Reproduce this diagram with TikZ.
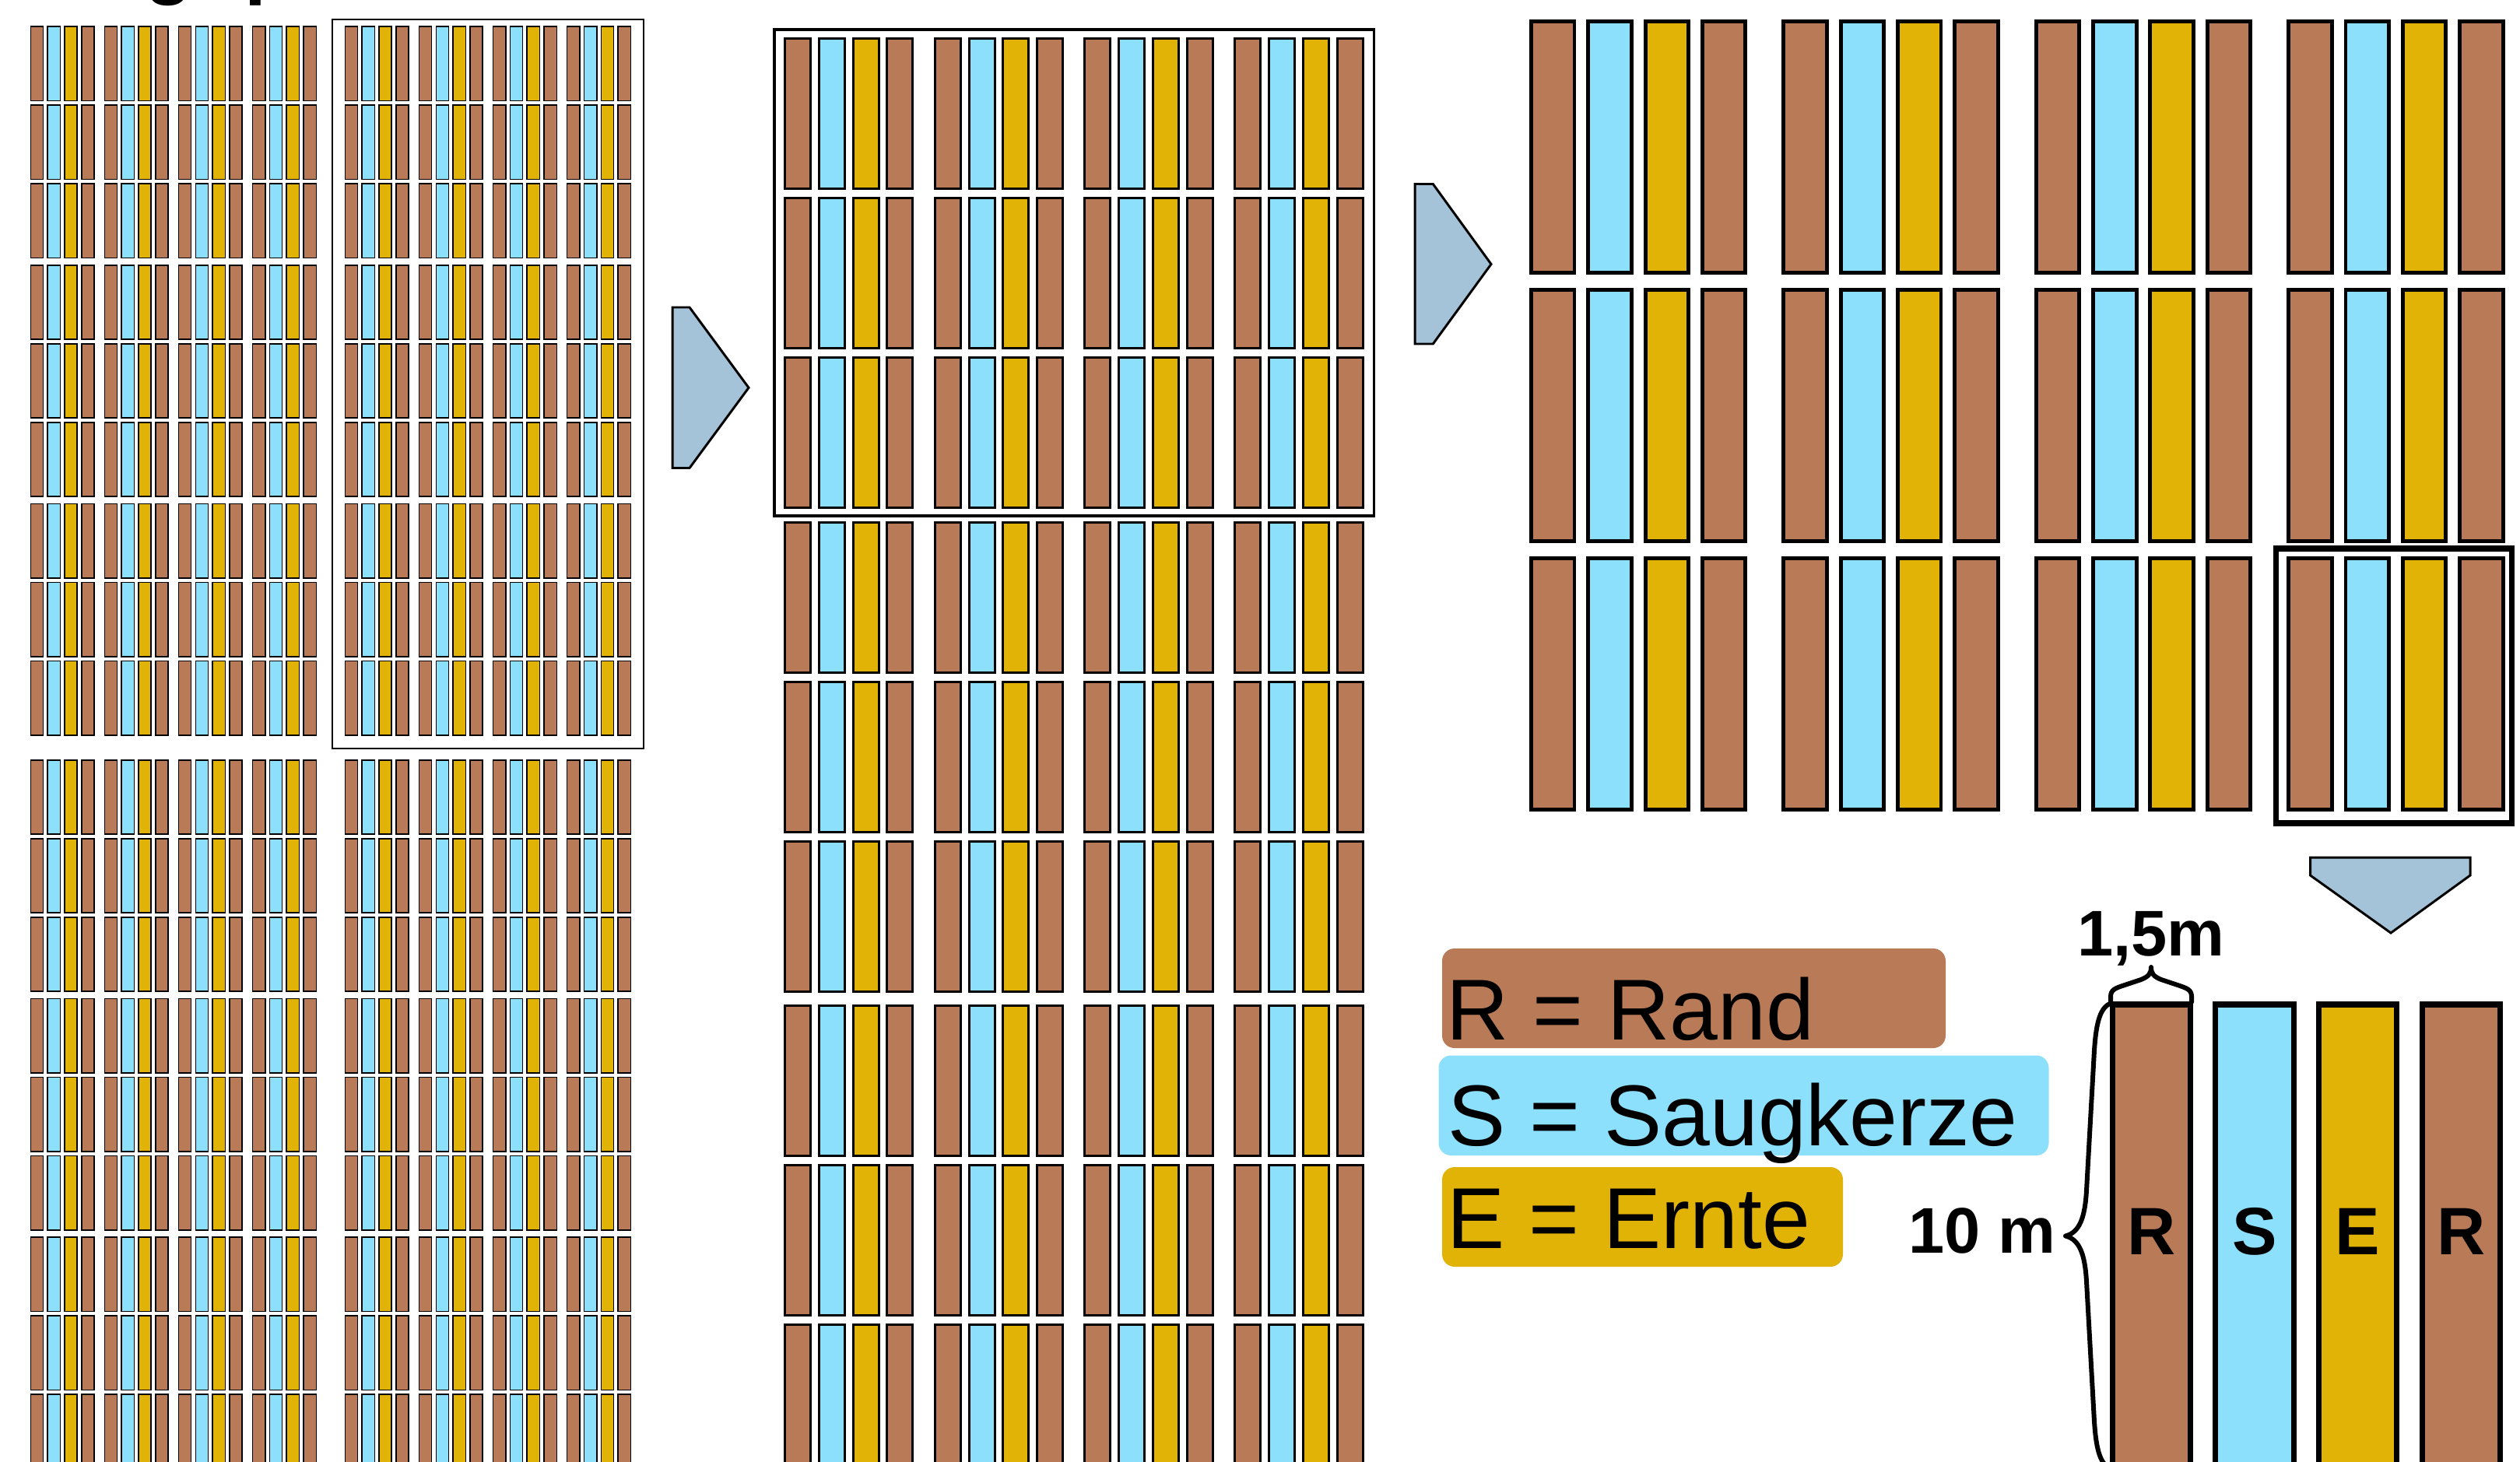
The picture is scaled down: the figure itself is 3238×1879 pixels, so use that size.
\documentclass[tikz,border=0pt]{standalone}
\usepackage{fontspec}
\setmainfont{Liberation Sans}
\definecolor{randc}{RGB}{185,122,87}
\definecolor{saugc}{RGB}{140,224,251}
\definecolor{erntec}{RGB}{226,179,7}
\definecolor{arrowc}{RGB}{165,195,216}
% #1 x0, #2 y0, #3 strip w, #4 strip pitch, #5 block pitch, #6 row h, #7 row pitch, #8 group pitch, #9 groups
\newcommand{\drawfield}[9]{%
  \foreach \gpx in {1,...,#9}{%
    \foreach \rwx in {0,1,2}{%
      \foreach \bkx in {0,1,2,3}{%
        \foreach \stx/\clx in {0/randc,1/saugc,2/erntec,3/randc}{%
          \pgfmathsetmacro\xa{#1+\bkx*#5+\stx*#4}%
          \pgfmathsetmacro\ya{#2+(\gpx-1)*#8+\rwx*#7}%
          \draw[fill=\clx] (\xa,\ya) rectangle ++(#3,#6);
        }}}}}
\begin{document}
\begin{tikzpicture}[x=0.01cm,y=-0.01cm,
  legendtext/.style={anchor=base west,inner sep=0pt,font=\fontsize{31.6pt}{36pt}\selectfont},
  dimlabel/.style={inner sep=0pt,font=\fontsize{23.6pt}{28pt}\selectfont\bfseries},
  stripletter/.style={anchor=base,inner sep=0pt,font=\fontsize{24.5pt}{28pt}\selectfont\bfseries},
  titlefrag/.style={anchor=base west,inner sep=0pt,font=\fontsize{28.5pt}{30pt}\selectfont\bfseries},
  arrowshape/.style={fill=arrowc,draw=black,line width=0.85pt,line join=miter},
  brace/.style={draw=black,line width=1.7pt,line cap=round,line join=round},
  legendbox/.style={rounded corners=0.16cm}]

\useasboundingbox (0,0) rectangle (3238,1879);
\fill[white] (0,0) rectangle (3238,1879);

% cut-off title fragments
\node[titlefrag] (titleg) at (186,-13) {g};
\node[titlefrag] (titlep) at (314,-13) {p};

% left panel: 2 x 2 fields
\begin{scope}[line width=0.45pt]
\drawfield{39.3}{34.1}{16.2}{21.83}{95.1}{95.4}{101}{306.7}{3}
\drawfield{443.4}{34.1}{16.2}{21.83}{95.1}{95.4}{101}{306.7}{3}
\drawfield{39.3}{976.8}{16.2}{21.83}{95.1}{95.4}{101}{306.7}{3}
\drawfield{443.4}{976.8}{16.2}{21.83}{95.1}{95.4}{101}{306.7}{3}
\end{scope}
\draw[line width=0.7pt] (427,25) rectangle (827,962);

% arrow 1
\draw[arrowshape] (864,395) -- (886,395) -- (962,498.3) -- (886,601.5) -- (864,601.5) -- cycle;

% middle panel
\begin{scope}[line width=0.85pt]
\drawfield{1008.5}{49.3}{33}{43.8}{192.7}{193}{205}{621.8}{3}
\end{scope}
\draw[line width=1.1pt] (995.4,37.7) rectangle (1765.5,663);

% arrow 2
\draw[arrowshape] (1818,236.5) -- (1841.3,236.5) -- (1916,339.5) -- (1841.3,442) -- (1818,442) -- cycle;

% right panel
\begin{scope}[line width=1.4pt]
\drawfield{1967.5}{27.1}{55.5}{73.3}{324.4}{323}{345}{0}{1}
\end{scope}
\draw[line width=2pt] (2924,705) rectangle (3227,1058);

% arrow 3 (down)
\draw[arrowshape] (2968.5,1102) -- (3174,1102) -- (3174,1125) -- (3072,1199) -- (2968.5,1125) -- cycle;

% legend
\fill[randc,legendbox] (1853,1219) rectangle (2500,1347);
\fill[saugc,legendbox] (1848.5,1356.5) rectangle (2632.5,1485);
\fill[erntec,legendbox] (1853,1500) rectangle (2368,1628);
\node[legendtext] (legR) at (1858,1336) {R = Rand};
\node[legendtext] (legS) at (1860,1472) {S = Saugkerze};
\node[legendtext] (legE) at (1859,1604) {E = Ernte};

% detail strips
\begin{scope}[line width=2pt]
\foreach \ix/\clx in {0/randc,1/saugc,2/erntec,3/randc}{
  \draw[fill=\clx] (2714+\ix*132.7,1291) rectangle ++(100.5,600);
}
\end{scope}
\node[stripletter] (dR1) at (2764.3,1612) {R};
\node[stripletter] (dS) at (2897,1612) {S};
\node[stripletter] (dE) at (3029.7,1612) {E};
\node[stripletter] (dR2) at (3162.4,1612) {R};

% dimensions
\node[dimlabel,anchor=base] (dimw) at (2764,1228) {1,5m};
\node[dimlabel,anchor=base east] (dimh) at (2642,1610) {10 m};

\draw[brace] (2712,1288) -- (2712,1281) .. controls (2712,1272) and (2718,1270) .. (2730,1266) -- (2751,1259) .. controls (2761,1255) and (2764,1251) .. (2764,1243) .. controls (2764,1251) and (2767,1255) .. (2777,1259) -- (2798,1266) .. controls (2810,1270) and (2816,1272) .. (2816,1281) -- (2816,1288);

\draw[brace] (2711,1290) .. controls (2697,1296) and (2693,1320) .. (2691,1350) -- (2681,1530) .. controls (2679,1565) and (2672,1584) .. (2654,1588.5) .. controls (2672,1593) and (2679,1612) .. (2681,1647) -- (2691,1827) .. controls (2693,1857) and (2697,1881) .. (2711,1887);

\end{tikzpicture}
\end{document}
